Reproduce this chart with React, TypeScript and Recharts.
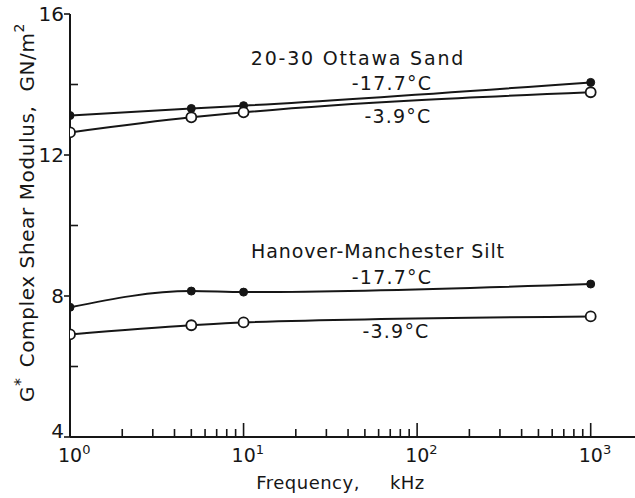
import React from 'react';
import { LineChart, Line, XAxis, YAxis, ReferenceDot } from 'recharts';

// frequency of each measurement, kHz
const freqKHz = [1, 5, 10, 1000];

// complex shear modulus G*, GN/m^2
const sandCold = [13.12, 13.32, 13.4, 14.06]; // 20-30 Ottawa sand, -17.7 °C
const sandWarm = [12.64, 13.07, 13.21, 13.78]; // 20-30 Ottawa sand, -3.9 °C
const siltCold = [7.68, 8.14, 8.11, 8.34]; // Hanover-Manchester silt, -17.7 °C
const siltWarm = [6.91, 7.17, 7.25, 7.42]; // Hanover-Manchester silt, -3.9 °C

const decades = [1, 10, 100, 1000];
const minorSteps = [2, 3, 4, 5, 6, 7, 8, 9];
const yTicks = [4, 6, 8, 10, 12, 14, 16];
const yLabelled = [4, 8, 12, 16];

const xTicks = decades.flatMap((d) => (d < 1000 ? [d, ...minorSteps.map((m) => m * d)] : [d]));

const data = freqKHz.map((f, i) => ({
  f,
  sandCold: sandCold[i],
  sandWarm: sandWarm[i],
  siltCold: siltCold[i],
  siltWarm: siltWarm[i],
}));

const INK = '#161616';
const FONT = '"DejaVu Sans", sans-serif';

const isDecade = (v: number) => decades.includes(v);

const BottomTick = (props: any) => {
  const { x, y, payload } = props;
  const v = payload.value;
  const major = isDecade(v);
  const exp = Math.round(Math.log10(v));
  return (
    <g>
      <line x1={x} y1={y} x2={x} y2={y - (major ? 14 : 8)} stroke={INK} strokeWidth={1.6} />
      {major && (
        <text x={x - 12} y={y + 25} textAnchor="start" fontSize={19} fontFamily={FONT} fill={INK}>
          10
          <tspan dy={-8} fontSize={13}>{exp}</tspan>
        </text>
      )}
    </g>
  );
};

const TopTick = (props: any) => {
  const { x, y, payload } = props;
  const major = isDecade(payload.value);
  return <line x1={x} y1={y} x2={x} y2={y + (major ? 14 : 8)} stroke={INK} strokeWidth={1.6} />;
};

const LeftTick = (props: any) => {
  const { x, y, payload } = props;
  const v = payload.value;
  const major = yLabelled.includes(v);
  // the bottom label sits just above the frequency axis labels
  const lift = v === 4 ? -6 : 0;
  return (
    <g>
      {major ? (
        <line x1={x - 6} y1={y} x2={x} y2={y} stroke={INK} strokeWidth={1.6} />
      ) : (
        <line x1={x} y1={y} x2={x + 8} y2={y} stroke={INK} strokeWidth={1.6} />
      )}
      {major && (
        <text x={x - 6} y={y + lift} dy="0.36em" textAnchor="end" fontSize={20} fontFamily={FONT} fill={INK}>
          {v}
        </text>
      )}
    </g>
  );
};

const YTitle = (props: any) => {
  const { viewBox } = props;
  const cx = viewBox.x + 17;
  const cy = viewBox.y + viewBox.height / 2 - 13;
  return (
    <text
      x={cx}
      y={cy}
      transform={`rotate(-90 ${cx} ${cy})`}
      textAnchor="middle"
      dominantBaseline="central"
      fontSize={20}
      letterSpacing={0.6}
      fontFamily={FONT}
      fill={INK}
    >
      G<tspan dy={-7} fontSize={16}>*</tspan>
      <tspan dy={7} dx={10}>Complex Shear Modulus,</tspan>
      <tspan dx={14}>GN/m</tspan>
      <tspan dy={-8} fontSize={14}>2</tspan>
    </text>
  );
};

const XTitle = (props: any) => {
  const { viewBox } = props;
  return (
    <text
      x={viewBox.x + viewBox.width / 2 - 12}
      y={viewBox.y + 52}
      textAnchor="middle"
      fontSize={18}
      letterSpacing={0.5}
      fontFamily={FONT}
      fill={INK}
    >
      Frequency,
      <tspan dx={30}>kHz</tspan>
    </text>
  );
};

// text annotations placed in data coordinates
const notes = [
  { f: 45.6, g: 14.75, text: '20-30 Ottawa Sand', spacing: 1.8 },
  { f: 71.6, g: 14.03, text: '-17.7°C', spacing: 1.2 },
  { f: 77.6, g: 13.09, text: '-3.9°C', spacing: 1.2 },
  { f: 59.5, g: 9.28, text: 'Hanover-Manchester Silt', spacing: 0.9 },
  { f: 71.6, g: 8.54, text: '-17.7°C', spacing: 1.2 },
  { f: 75.6, g: 7.0, text: '-3.9°C', spacing: 1.2 },
];

const filledDot = { r: 4, fill: INK, stroke: INK, strokeWidth: 1 };
const openDot = { r: 5, fill: '#fff', stroke: INK, strokeWidth: 1.8 };

export default function App() {
  return (
    <div style={{ position: 'absolute', left: 0, top: 0, background: '#fff' }}>
      <LineChart width={635} height={498} data={data} margin={{ top: 14, right: 0, bottom: 31, left: 10 }}>
        <XAxis
          dataKey="f"
          type="number"
          scale="log"
          domain={[1, 1800]}
          allowDataOverflow
          ticks={xTicks}
          interval={0}
          tickSize={0}
          tickMargin={0}
          tickLine={false}
          tick={<BottomTick />}
          axisLine={{ stroke: INK, strokeWidth: 2 }}
          height={30}
          label={<XTitle />}
        />
        <XAxis
          xAxisId="top"
          orientation="top"
          dataKey="f"
          type="number"
          scale="log"
          domain={[1, 1800]}
          allowDataOverflow
          ticks={xTicks}
          interval={0}
          tickSize={0}
          tickMargin={0}
          tickLine={false}
          tick={<TopTick />}
          axisLine={{ stroke: INK, strokeWidth: 2 }}
          height={0}
        />
        <YAxis
          type="number"
          domain={[4, 16]}
          ticks={yTicks}
          interval={0}
          tickSize={0}
          tickMargin={0}
          tickLine={false}
          tick={<LeftTick />}
          axisLine={{ stroke: INK, strokeWidth: 2 }}
          width={60}
          label={<YTitle />}
        />
        <Line dataKey="sandCold" type="monotone" stroke={INK} strokeWidth={2} dot={filledDot} isAnimationActive={false} />
        <Line dataKey="sandWarm" type="monotone" stroke={INK} strokeWidth={2} dot={openDot} isAnimationActive={false} />
        <Line dataKey="siltCold" type="monotone" stroke={INK} strokeWidth={2} dot={filledDot} isAnimationActive={false} />
        <Line dataKey="siltWarm" type="monotone" stroke={INK} strokeWidth={2} dot={openDot} isAnimationActive={false} />
        {notes.map((n, i) => (
          <ReferenceDot
            key={i}
            x={n.f}
            y={n.g}
            r={0}
            stroke="none"
            fill="none"
            ifOverflow="visible"
            label={{
              value: n.text,
              position: 'center',
              fill: INK,
              fontSize: 19,
              fontFamily: FONT,
              letterSpacing: n.spacing,
            }}
          />
        ))}
      </LineChart>
    </div>
  );
}
